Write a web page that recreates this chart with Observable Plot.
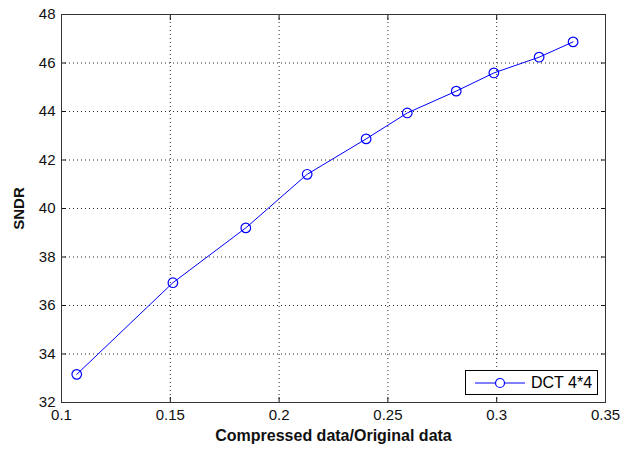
<!DOCTYPE html>
<html>
<head>
<meta charset="utf-8">
<script src="https://cdn.jsdelivr.net/npm/d3@7"></script>
<script src="https://cdn.jsdelivr.net/npm/@observablehq/plot@0.6"></script>
<style>
  html, body { margin: 0; padding: 0; background: white; }
  #wrap { position: relative; width: 624px; height: 450px; }
  g[aria-label="x-axis label"] text, g[aria-label="y-axis label"] text { font-weight: bold; }
  g[aria-label="x-axis label"] { font-size: 16px; }
  g[aria-label="y-axis label"] { font-size: 15px; }
  #legend {
    position: absolute; left: 465px; top: 370px; width: 131px; height: 23px;
    border: 1px solid #000; background: white;
    font-family: "Liberation Sans", Arial, sans-serif; font-size: 16px; color: #000;
    display: flex; align-items: center;
  }
  #legend svg { margin-left: 8px; }
  #legend span { margin-left: 5px; }
</style>
</head>
<body>
<div id="wrap"></div>
<script>
const seriesName = "DCT 4*4";
const xLabel = "Compressed data/Original data";
const yLabel = "SNDR";
const ratio = [0.107, 0.1512, 0.1847, 0.2129, 0.240, 0.2589, 0.2814, 0.2987, 0.3195, 0.3351];
const sndr  = [33.16, 36.94, 39.20, 41.41, 42.87, 43.94, 44.84, 45.59, 46.24, 46.87];
const xTicks = [0.1, 0.15, 0.2, 0.25, 0.3, 0.35];
const yTicks = [32, 34, 36, 38, 40, 42, 44, 46, 48];

const data = ratio.map((x, i) => ({x, y: sndr[i]}));
const blue = "#0000ff";

const chart = Plot.plot({
  width: 624, height: 450,
  marginLeft: 61, marginRight: 19, marginTop: 14, marginBottom: 48,
  style: {fontFamily: "'Liberation Sans', Arial, sans-serif", fontSize: "15px", color: "#111", background: "white"},
  x: {domain: [0.1, 0.35]},
  y: {domain: [32, 48]},
  marks: [
    Plot.gridX(xTicks.slice(1, -1), {stroke: "#000", strokeOpacity: 0.85, strokeDasharray: "1,3"}),
    Plot.gridY(yTicks.slice(1, -1), {stroke: "#000", strokeOpacity: 0.85, strokeDasharray: "1,3"}),
    Plot.axisX(xTicks, {anchor: "bottom", tickSize: -5, tickPadding: 12, tickFormat: d => String(d),
      label: xLabel, labelAnchor: "center", labelArrow: "none", labelOffset: 38}),
    Plot.axisX(xTicks, {anchor: "top", tickSize: -5, tickFormat: () => "", label: null}),
    Plot.axisY(yTicks, {anchor: "left", tickSize: -5, tickPadding: 11, tickFormat: d => String(d),
      label: yLabel, labelAnchor: "center", labelArrow: "none", labelOffset: 48}),
    Plot.axisY(yTicks, {anchor: "right", tickSize: -5, tickFormat: () => "", label: null}),
    Plot.frame({stroke: "#333"}),
    Plot.line(data, {x: "x", y: "y", stroke: blue, strokeWidth: 1}),
    Plot.dot(data, {x: "x", y: "y", r: 4.8, stroke: blue, strokeWidth: 1.2, fill: "none"})
  ]
});
const wrap = document.getElementById("wrap");
wrap.appendChild(chart);

const legend = document.createElement("div");
legend.id = "legend";
legend.innerHTML = `<svg width="52" height="12"><line x1="1" x2="51" y1="6" y2="6" stroke="${blue}" stroke-width="1"/><circle cx="26" cy="6" r="4.5" fill="white" stroke="${blue}" stroke-width="1.2"/></svg><span>${seriesName}</span>`;
wrap.appendChild(legend);
</script>
</body>
</html>
